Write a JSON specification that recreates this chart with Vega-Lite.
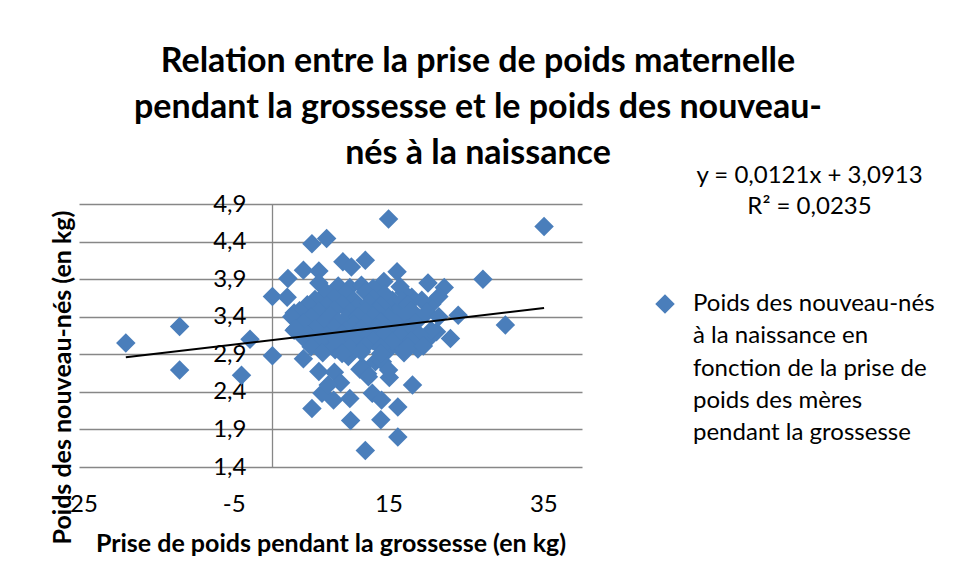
{
  "$schema": "https://vega.github.io/schema/vega-lite/v6.json",
  "width": 503,
  "height": 263,
  "autosize": {"type": "none"},
  "padding": {"left": 79, "top": 204, "right": 373, "bottom": 114},
  "background": "white",
  "title": {
    "text": ["Relation entre la prise de poids maternelle", "pendant la grossesse et le poids des nouveau-", "nés à la naissance"],
    "font": "Lato", "fontSize": 34, "fontWeight": "bold", "color": "#000000",
    "lineHeight": 46, "anchor": "middle", "dx": 147.5, "offset": -7
  },
  "config": {
    "view": {"stroke": null},
    "style": {"guide-label": {"lineHeight": 32.3}}
  },
  "datasets": {
    "points": [
      {"x": -18.95, "y": 3.05}, {"x": -12.0, "y": 3.27}, {"x": -12.0, "y": 2.69}, {"x": -4.0, "y": 2.62},
      {"x": -2.9, "y": 3.10}, {"x": 0.0, "y": 2.88}, {"x": 0.0, "y": 3.67}, {"x": 2.0, "y": 3.91},
      {"x": 1.9, "y": 3.66}, {"x": 4.0, "y": 4.02}, {"x": 5.1, "y": 4.37}, {"x": 7.0, "y": 4.44},
      {"x": 6.0, "y": 4.01}, {"x": 6.0, "y": 3.85}, {"x": 9.1, "y": 4.13}, {"x": 10.2, "y": 4.06},
      {"x": 12.0, "y": 4.15}, {"x": 15.0, "y": 4.70}, {"x": 35.1, "y": 4.60}, {"x": 16.1, "y": 4.00},
      {"x": 27.2, "y": 3.90}, {"x": 24.0, "y": 3.42}, {"x": 30.1, "y": 3.29}, {"x": 23.0, "y": 3.11},
      {"x": 20.1, "y": 3.85}, {"x": 22.2, "y": 3.79}, {"x": 18.0, "y": 3.66}, {"x": 20.6, "y": 3.57},
      {"x": 18.1, "y": 2.49}, {"x": 16.2, "y": 2.20}, {"x": 14.0, "y": 2.03}, {"x": 10.1, "y": 2.02},
      {"x": 16.2, "y": 1.80}, {"x": 12.0, "y": 1.62}, {"x": 5.1, "y": 2.18}, {"x": 7.9, "y": 2.29},
      {"x": 10.0, "y": 2.31}, {"x": 12.9, "y": 2.38}, {"x": 14.1, "y": 2.29}, {"x": 15.1, "y": 2.59},
      {"x": 6.0, "y": 2.67}, {"x": 8.0, "y": 2.66}, {"x": 8.8, "y": 2.52}, {"x": 6.4, "y": 2.38},
      {"x": 7.2, "y": 2.49}, {"x": 4.0, "y": 2.84}, {"x": 11.3, "y": 2.70}, {"x": 12.3, "y": 2.64},
      {"x": 18.8, "y": 2.97}, {"x": 20.0, "y": 3.09}, {"x": 21.2, "y": 3.20}, {"x": 14.4, "y": 3.87},
      {"x": 15.5, "y": 3.62}, {"x": 16.3, "y": 3.49}, {"x": 19.3, "y": 3.62}, {"x": 21.5, "y": 3.67},
      {"x": 14.4, "y": 3.49}, {"x": 8.1, "y": 2.96}, {"x": 9.8, "y": 2.87}, {"x": 11.6, "y": 2.73},
      {"x": 13.3, "y": 2.80}, {"x": 12.4, "y": 2.60}, {"x": 13.7, "y": 3.05}, {"x": 15.0, "y": 2.96},
      {"x": 16.3, "y": 3.05}, {"x": 14.2, "y": 2.80}, {"x": 15.0, "y": 2.69}, {"x": 2.8, "y": 3.45},
      {"x": 3.8, "y": 3.45}, {"x": 2.8, "y": 3.22}, {"x": 4.1, "y": 3.11}, {"x": 7.1, "y": 3.00},
      {"x": 8.5, "y": 3.81}, {"x": 10.0, "y": 3.79}, {"x": 11.5, "y": 3.82}, {"x": 13.0, "y": 3.78}, {"x": 16.5, "y": 3.80},
      {"x": 7.0, "y": 3.72}, {"x": 9.5, "y": 3.71}, {"x": 12.0, "y": 3.73}, {"x": 14.5, "y": 3.70}, {"x": 17.0, "y": 3.72},
      {"x": 5.5, "y": 3.63}, {"x": 8.0, "y": 3.65}, {"x": 10.5, "y": 3.62}, {"x": 13.0, "y": 3.64}, {"x": 16.8, "y": 3.61},
      {"x": 4.5, "y": 3.56}, {"x": 7.0, "y": 3.55}, {"x": 9.0, "y": 3.57}, {"x": 11.0, "y": 3.54}, {"x": 12.5, "y": 3.58}, {"x": 14.0, "y": 3.55}, {"x": 17.5, "y": 3.56},
      {"x": 3.5, "y": 3.48}, {"x": 6.0, "y": 3.47}, {"x": 8.0, "y": 3.49}, {"x": 10.0, "y": 3.46}, {"x": 12.0, "y": 3.48}, {"x": 13.5, "y": 3.47}, {"x": 18.0, "y": 3.48}, {"x": 20.0, "y": 3.46},
      {"x": 2.5, "y": 3.40}, {"x": 5.0, "y": 3.39}, {"x": 7.5, "y": 3.41}, {"x": 9.5, "y": 3.38}, {"x": 11.0, "y": 3.40}, {"x": 13.0, "y": 3.41}, {"x": 15.0, "y": 3.39}, {"x": 17.0, "y": 3.40}, {"x": 19.0, "y": 3.38}, {"x": 21.5, "y": 3.40},
      {"x": 4.0, "y": 3.32}, {"x": 6.5, "y": 3.31}, {"x": 8.5, "y": 3.33}, {"x": 10.5, "y": 3.30}, {"x": 12.0, "y": 3.32}, {"x": 14.0, "y": 3.33}, {"x": 16.0, "y": 3.31}, {"x": 18.5, "y": 3.32},
      {"x": 3.0, "y": 3.24}, {"x": 5.5, "y": 3.23}, {"x": 8.0, "y": 3.25}, {"x": 9.5, "y": 3.22}, {"x": 11.5, "y": 3.24}, {"x": 13.5, "y": 3.25}, {"x": 15.0, "y": 3.23}, {"x": 17.5, "y": 3.24}, {"x": 20.5, "y": 3.22},
      {"x": 4.5, "y": 3.16}, {"x": 7.0, "y": 3.15}, {"x": 9.0, "y": 3.17}, {"x": 11.0, "y": 3.14}, {"x": 12.5, "y": 3.16}, {"x": 14.5, "y": 3.17}, {"x": 16.5, "y": 3.15}, {"x": 19.0, "y": 3.16},
      {"x": 6.0, "y": 3.08}, {"x": 8.5, "y": 3.07}, {"x": 10.5, "y": 3.09}, {"x": 13.0, "y": 3.08}, {"x": 15.5, "y": 3.07}, {"x": 18.0, "y": 3.08},
      {"x": 5.0, "y": 3.00}, {"x": 10.0, "y": 2.99}, {"x": 12.0, "y": 3.01}, {"x": 14.0, "y": 2.99}, {"x": 17.5, "y": 3.00}, {"x": 19.5, "y": 3.01},
      {"x": 6.5, "y": 2.92}, {"x": 9.0, "y": 2.91}, {"x": 11.5, "y": 2.93}, {"x": 14.0, "y": 2.91}, {"x": 17.0, "y": 2.92}
    ],
    "trend": [
      {"x": -18.95, "y": 2.86},
      {"x": 35.1, "y": 3.515}
    ],
    "eq": [
      {"x": 69.4, "y": 5.277, "label": "y = 0,0121x + 3,0913"},
      {"x": 69.4, "y": 4.864, "label": "R² = 0,0235"}
    ]
  },
  "encoding": {
    "x": {
      "field": "x", "type": "quantitative",
      "scale": {"domain": [-25, 40], "nice": false, "zero": false},
      "axis": {
        "values": [-25, -5, 15, 35], "grid": false, "ticks": false, "domain": false,
        "labelFlush": false, "labelOverlap": false,
        "labelFont": "Lato", "labelFontSize": 24, "labelColor": "#000000", "labelPadding": 25,
        "labelExpr": "datum.value < 0 ? '-' + abs(datum.value) : '' + datum.value",
        "title": "Prise de poids pendant la grossesse (en kg)",
        "titleFont": "Lato", "titleFontSize": 25, "titleFontWeight": "bold", "titleColor": "#000000",
        "titleY": 76, "titleBaseline": "middle"
      }
    }
  },
  "layer": [
    {
      "data": {"name": "points"},
      "mark": {"type": "point", "shape": "diamond", "filled": true, "size": 380, "opacity": 1, "strokeWidth": 0},
      "encoding": {
        "y": {
          "field": "y", "type": "quantitative",
          "scale": {"domain": [1.4, 4.9], "nice": false, "zero": false},
          "axis": {
            "orient": "left",
            "values": [1.4, 1.9, 2.4, 2.9, 3.4, 3.9, 4.4, 4.9],
            "grid": true, "gridColor": "#878787", "gridWidth": 1.3,
            "labels": false, "ticks": false, "domain": false,
            "title": "Poids des nouveau-nés (en kg)",
            "titleFont": "Lato", "titleFontSize": 25, "titleFontWeight": "bold", "titleColor": "#000000",
            "titleAngle": -90, "titleX": -17, "titleY": 173, "titleAlign": "center", "titleBaseline": "middle"
          }
        },
        "color": {
          "datum": "Poids des nouveau-nés",
          "type": "nominal",
          "scale": {"range": ["#4a7ebb"]},
          "legend": {
            "orient": "none", "legendX": 574, "legendY": 88, "title": null, "padding": 0,
            "symbolType": "diamond", "symbolSize": 380, "symbolStrokeWidth": 0,
            "labelFont": "Lato", "labelFontSize": 24, "labelColor": "#000000", "labelOffset": 16,
            "labelLimit": 400, "labelBaseline": "middle",
            "labelExpr": "['Poids des nouveau-nés', 'à la naissance en', 'fonction de la prise de', 'poids des mères', 'pendant la grossesse']"
          }
        }
      }
    },
    {
      "data": {"name": "trend"},
      "mark": {"type": "line", "color": "#000000", "strokeWidth": 2},
      "encoding": {
        "y": {
          "field": "y", "type": "quantitative",
          "scale": {"domain": [1.4, 4.9], "nice": false, "zero": false},
          "axis": {
            "orient": "left",
            "values": [1.4, 1.9, 2.4, 2.9, 3.4, 3.9, 4.4, 4.9],
            "offset": -193, "grid": false, "ticks": false,
            "domain": true, "domainColor": "#878787", "domainWidth": 1.3,
            "labelFont": "Lato", "labelFontSize": 24, "labelColor": "#000000", "labelPadding": 26,
            "labelExpr": "replace(format(datum.value, '.1f'), '.', ',')",
            "title": null
          }
        }
      }
    },
    {
      "data": {"name": "eq"},
      "mark": {"type": "text", "font": "Lato", "fontSize": 24, "color": "#000000", "align": "center", "baseline": "middle"},
      "encoding": {
        "y": {"field": "y", "type": "quantitative", "axis": null},
        "text": {"field": "label", "type": "nominal"}
      }
    }
  ],
  "resolve": {"axis": {"y": "independent"}}
}
